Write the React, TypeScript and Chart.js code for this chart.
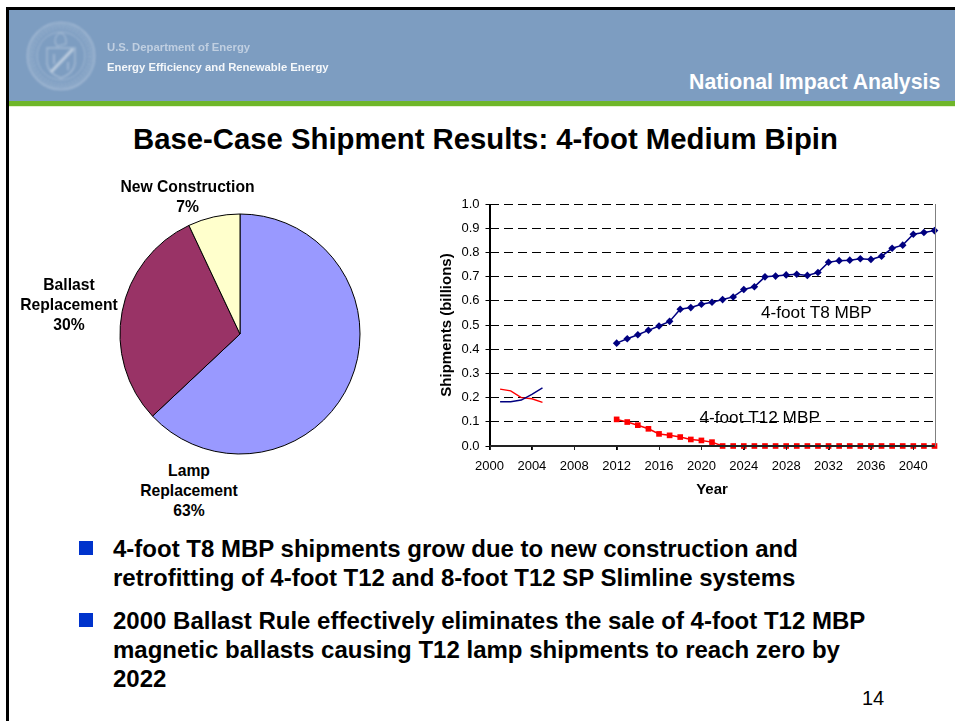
import React, { useEffect, useRef } from "react";
import { Chart, registerables } from "chart.js";

Chart.register(...registerables);

const FONT = '"Liberation Sans", Arial, sans-serif';

const pieCategories = ["Lamp Replacement", "Ballast Replacement", "New Construction"];
const pieValues = [63, 30, 7];
const pieColors = ["#9999FF", "#993366", "#FFFFCC"];

const historyYears = [2001, 2002, 2003, 2004, 2005];
const t8History = [0.183, 0.183, 0.19, 0.213, 0.24];
const t12History = [0.235, 0.228, 0.2, 0.195, 0.18];

const projectionYears = [
  2012, 2013, 2014, 2015, 2016, 2017, 2018, 2019, 2020, 2021, 2022, 2023, 2024, 2025, 2026, 2027,
  2028, 2029, 2030, 2031, 2032, 2033, 2034, 2035, 2036, 2037, 2038, 2039, 2040, 2041, 2042,
];
const t8Projection = [
  0.425, 0.443, 0.46, 0.478, 0.496, 0.515, 0.565, 0.572, 0.586, 0.594, 0.605, 0.616, 0.647, 0.658,
  0.699, 0.702, 0.707, 0.71, 0.705, 0.717, 0.759, 0.766, 0.768, 0.774, 0.771, 0.784, 0.817, 0.83,
  0.875, 0.882, 0.89,
];
const t12Projection = [
  0.11, 0.099, 0.086, 0.071, 0.05, 0.044, 0.037, 0.027, 0.023, 0.016, 0, 0, 0, 0, 0, 0, 0, 0, 0, 0,
  0, 0, 0, 0, 0, 0, 0, 0, 0, 0, 0,
];

const seriesNames = ["4-foot T8 MBP", "4-foot T12 MBP"];
const title = "Base-Case Shipment Results: 4-foot Medium Bipin";
const bullets = [
  [
    "4-foot T8 MBP shipments grow due to new construction and",
    "retrofitting of 4-foot T12 and 8-foot T12 SP Slimline systems",
  ],
  [
    "2000 Ballast Rule effectively eliminates the sale of 4-foot T12 MBP",
    "magnetic ballasts causing T12 lamp shipments to reach zero by",
    "2022",
  ],
];

const zip = (xs: number[], ys: number[]) => xs.map((x, i) => ({ x, y: ys[i] }));

const abs = (left: number, top: number, extra: React.CSSProperties = {}): React.CSSProperties => ({
  position: "absolute",
  left,
  top,
  whiteSpace: "nowrap",
  fontFamily: FONT,
  ...extra,
});

function PieLabel({ lines, cx, top }: { lines: string[]; cx: number; top: number }) {
  return (
    <div
      style={abs(cx - 100, top, {
        width: 200,
        textAlign: "center",
        fontWeight: 700,
        fontSize: 15.7,
        lineHeight: "19.8px",
        color: "#000",
      })}
    >
      {lines.map((l) => (
        <div key={l}>{l}</div>
      ))}
    </div>
  );
}

function Seal() {
  return (
    <svg
      width={80}
      height={80}
      viewBox="0 0 80 80"
      style={{ position: "absolute", left: 21, top: 16, filter: "blur(0.8px)", opacity: 0.75 }}
    >
      <g fill="none" stroke="#B4C6DC">
        <circle cx={40} cy={40} r={33.5} strokeWidth={1.6} />
        <circle cx={40} cy={40} r={31} strokeWidth={0.8} />
        <circle cx={40} cy={40} r={24} strokeWidth={1} />
        <circle cx={40} cy={40} r={28} strokeWidth={3.5} strokeDasharray="2 1.5" opacity={0.5} />
        <path d="M26 32 H54 V48 Q52 58 40 62 Q28 58 26 48 Z" strokeWidth={1.4} />
        <path d="M30 56 L52 33" strokeWidth={3} stroke="#D4DEEA" />
        <path d="M34 26 Q34 18 40 17 Q46 19 45 28 L36 30 Z" strokeWidth={1.2} />
        <path d="M33 38 V48 M47 46 V54" strokeWidth={1.6} />
      </g>
    </svg>
  );
}

export default function App() {
  const pieRef = useRef<HTMLCanvasElement>(null);
  const lineRef = useRef<HTMLCanvasElement>(null);

  useEffect(() => {
    const pie = new Chart(pieRef.current!, {
      type: "pie",
      data: {
        labels: pieCategories,
        datasets: [
          {
            data: pieValues,
            backgroundColor: pieColors,
            borderColor: "#000",
            borderWidth: 1,
            hoverOffset: 0,
          },
        ],
      },
      options: {
        responsive: false,
        animation: false,
        layout: { padding: 1.5 },
        plugins: { legend: { display: false }, tooltip: { enabled: false } },
      },
    });

    const frameAndLabels = {
      id: "frameAndLabels",
      afterDraw(chart: any) {
        const { ctx, scales } = chart;
        const left = scales.x.left;
        const right = scales.x.right;
        const top = scales.y.top;
        const bottom = scales.y.bottom;
        ctx.save();
        ctx.setLineDash([]);
        ctx.fillStyle = "#808080";
        ctx.fillRect(Math.round(right), top, 1, bottom - top);
        ctx.fillStyle = "#000";
        ctx.fillRect(Math.round(left) - 1, top, 2, bottom - top + 4);
        ctx.fillStyle = "#222";
        ctx.fillRect(left, Math.round(bottom) - 1, right - left, 2);
        scales.x.ticks.forEach((t: any) => {
          ctx.fillRect(Math.round(scales.x.getPixelForValue(t.value)), bottom, 1, 4);
        });
        ctx.fillStyle = "#000";
        ctx.font = `17.2px ${FONT}`;
        ctx.textAlign = "center";
        ctx.textBaseline = "middle";
        ctx.fillText(seriesNames[0], scales.x.getPixelForValue(2030.85), scales.y.getPixelForValue(0.549));
        ctx.fillText(seriesNames[1], scales.x.getPixelForValue(2025.5), scales.y.getPixelForValue(0.115));
        ctx.restore();
      },
    };

    const line = new Chart(lineRef.current!, {
      type: "line",
      data: {
        datasets: [
          {
            label: seriesNames[0] + " history",
            data: zip(historyYears, t8History),
            borderColor: "#000080",
            borderWidth: 1.4,
            pointRadius: 0,
            clip: false,
          },
          {
            label: seriesNames[1] + " history",
            data: zip(historyYears, t12History),
            borderColor: "#FF0000",
            borderWidth: 1.4,
            pointRadius: 0,
            clip: false,
          },
          {
            label: seriesNames[0],
            data: zip(projectionYears, t8Projection),
            borderColor: "#000080",
            backgroundColor: "#000080",
            borderWidth: 1.5,
            pointStyle: "rectRot",
            pointRadius: 3.8,
            pointBorderWidth: 0,
            clip: false,
          },
          {
            label: seriesNames[1],
            data: zip(projectionYears, t12Projection),
            borderColor: "#FF0000",
            backgroundColor: "#FF0000",
            borderWidth: 1.5,
            pointStyle: "rect",
            pointRadius: 4,
            pointBorderWidth: 0,
            clip: false,
          },
        ],
      },
      options: {
        responsive: false,
        animation: false,
        layout: { padding: { top: 14, right: 20.5, left: 0, bottom: 0 } },
        plugins: { legend: { display: false }, tooltip: { enabled: false } },
        scales: {
          x: {
            type: "linear",
            min: 2000,
            max: 2042,
            afterFit: (s: any) => {
              s.height = 64;
            },
            ticks: {
              stepSize: 4,
              includeBounds: false,
              autoSkip: false,
              maxRotation: 0,
              callback: (v: any) => String(v),
              color: "#000",
              padding: 8.5,
              font: { family: FONT, size: 13 },
            },
            grid: { drawOnChartArea: false, color: "#000", tickLength: 4, tickWidth: 1 },
            border: { display: false },
            title: {
              display: true,
              text: "Year",
              color: "#000",
              padding: { top: 0, bottom: 11 },
              font: { family: FONT, size: 15, weight: "bold" },
            },
          },
          y: {
            min: 0,
            max: 1,
            afterFit: (s: any) => {
              s.width = 59.5;
            },
            ticks: {
              stepSize: 0.1,
              callback: (v: any) => Number(v).toFixed(1),
              color: "#000",
              padding: 6,
              font: { family: FONT, size: 13 },
            },
            grid: {
              color: "#000",
              lineWidth: 1,
              tickBorderDash: [],
              tickLength: 4,
              tickColor: "#000",
            },
            border: { display: false, dash: [9, 5] },
            title: {
              display: true,
              text: "Shipments (billions)",
              color: "#000",
              padding: { top: 8, bottom: 0 },
              font: { family: FONT, size: 15, weight: "bold" },
            },
          },
        },
      },
      plugins: [frameAndLabels],
    });

    return () => {
      pie.destroy();
      line.destroy();
    };
  }, []);

  return (
    <div style={{ position: "absolute", left: 0, top: 0, width: 955, height: 721, background: "#fff", overflow: "hidden" }}>
      <style>{`body{margin:0;background:#fff}`}</style>
      <div style={{ position: "absolute", left: 6, top: 7, width: 949, height: 714, borderLeft: "3px solid #000", borderTop: "3px solid #000", boxSizing: "border-box" }} />
      <div style={{ position: "absolute", left: 9, top: 10, width: 946, height: 91, background: "#7D9DC1" }} />
      <div style={{ position: "absolute", left: 9, top: 101, width: 946, height: 5, background: "#6FB62A" }} />
      <div style={{ position: "absolute", left: 9, top: 106, width: 946, height: 1, background: "#E4F2D0" }} />
      <Seal />
      <div style={abs(107, 40, { fontSize: 11.3, fontWeight: 700, lineHeight: "14px", color: "#C0CFE1", filter: "blur(0.4px)" })}>
        U.S. Department of Energy
      </div>
      <div style={abs(107, 60, { fontSize: 11.3, fontWeight: 700, lineHeight: "14px", color: "#F4F7FA", filter: "blur(0.3px)" })}>
        Energy Efficiency and Renewable Energy
      </div>
      <div style={abs(689, 70, { fontSize: 21.3, fontWeight: 700, lineHeight: "24px", color: "#fff" })}>National Impact Analysis</div>

      <div style={abs(133, 123, { fontSize: 29.3, fontWeight: 700, lineHeight: "32px", color: "#000" })}>{title}</div>

      <canvas ref={pieRef} width={244} height={244} style={{ position: "absolute", left: 118, top: 212, width: 244, height: 244 }} />
      <PieLabel lines={["New Construction", "7%"]} cx={187.5} top={177} />
      <PieLabel lines={["Ballast", "Replacement", "30%"]} cx={69} top={275} />
      <PieLabel lines={["Lamp", "Replacement", "63%"]} cx={189} top={461} />

      <canvas ref={lineRef} width={525} height={320} style={{ position: "absolute", left: 430, top: 190, width: 525, height: 320 }} />

      {bullets.map((lines, b) => (
        <React.Fragment key={b}>
          <div style={{ position: "absolute", left: 79, top: b === 0 ? 541 : 613, width: 14, height: 14, background: "#0033CC" }} />
          {lines.map((l, i) => (
            <div key={l} style={abs(113, (b === 0 ? 535 : 607) + i * 29, { fontSize: 24, fontWeight: 700, lineHeight: "28px", color: "#000" })}>
              {l}
            </div>
          ))}
        </React.Fragment>
      ))}
      <div style={abs(862, 688, { fontSize: 20, lineHeight: "20px", color: "#000" })}>14</div>
    </div>
  );
}
